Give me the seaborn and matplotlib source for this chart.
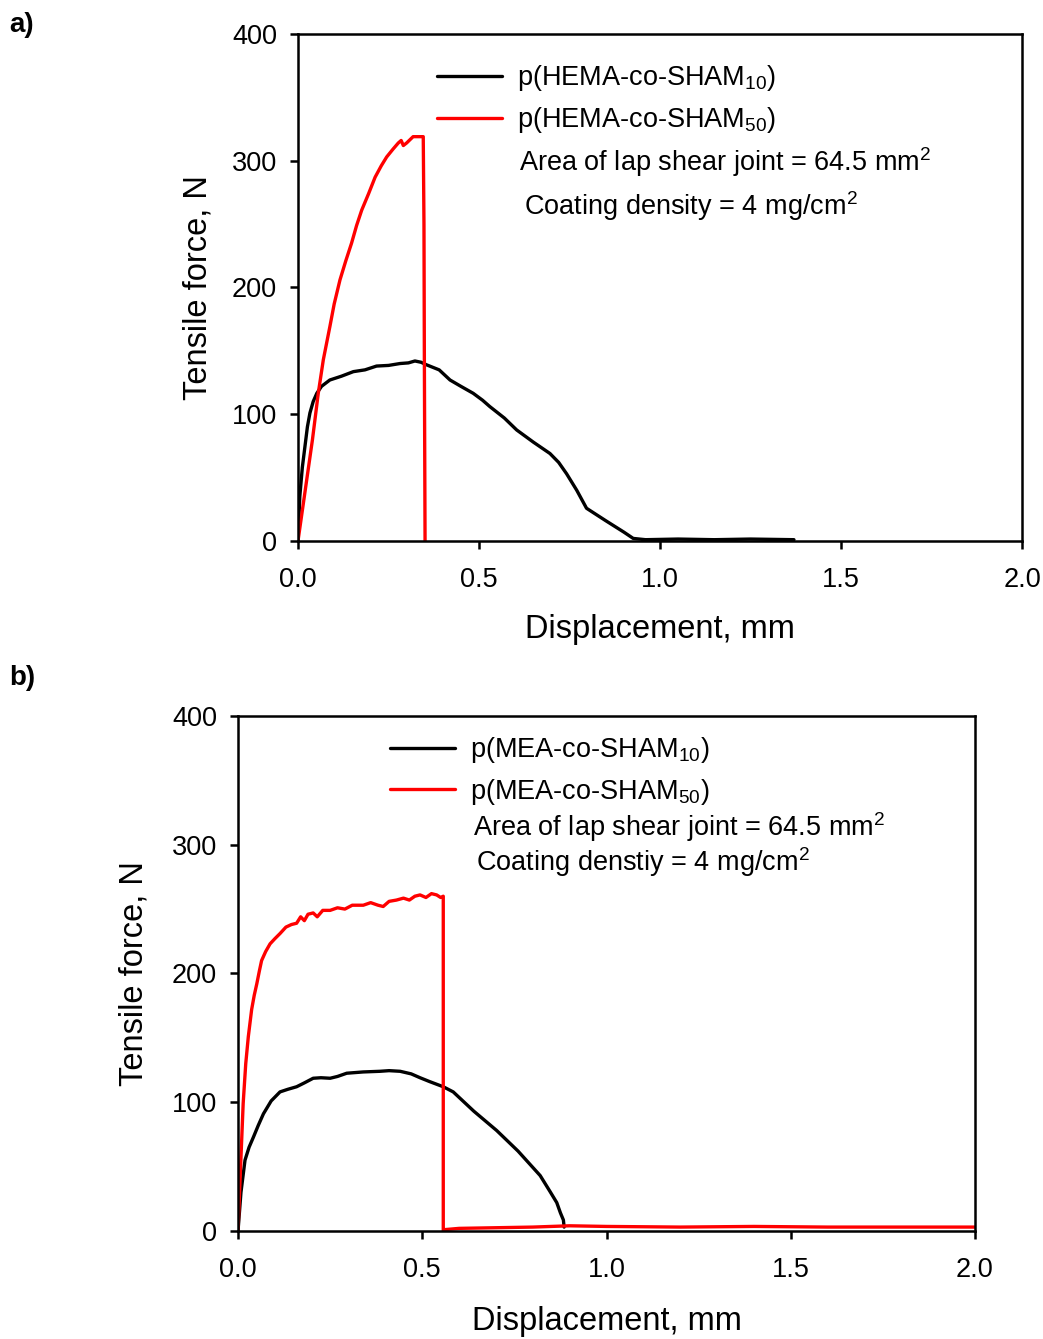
# Lap shear tensile tests - force vs displacement
import numpy as np
import pandas as pd
import matplotlib
matplotlib.use("Agg")
import matplotlib.pyplot as plt
import seaborn as sns
from matplotlib.ticker import FormatStrFormatter

# Panel a: p(HEMA-co-SHAM)
a_x10 = [0, 0.005, 0.012, 0.019, 0.026, 0.033, 0.042, 0.052, 0.065, 0.088, 0.12, 0.153,
         0.185, 0.217, 0.25, 0.282, 0.305, 0.323, 0.34, 0.355, 0.39, 0.42, 0.45, 0.484,
         0.51, 0.53, 0.57, 0.604, 0.65, 0.696, 0.72, 0.742, 0.77, 0.797, 0.85, 0.90,
         0.926, 0.96, 1.05, 1.15, 1.25, 1.37]
a_y10 = [0, 35, 58, 74, 90, 101, 110, 116.5, 122, 127, 130, 133.6, 135, 138, 138.5, 140,
         140.5, 142, 141, 139, 135, 127, 122, 116.5, 111, 106, 97, 87.6, 78, 69, 62, 53,
         40, 25.8, 16, 7, 2, 1, 1.5, 1, 1.5, 1]
a_x50 = [0, 0.02, 0.04, 0.056, 0.07, 0.088, 0.10, 0.116, 0.132, 0.148, 0.162, 0.176,
         0.195, 0.213, 0.23, 0.245, 0.262, 0.277, 0.285, 0.291, 0.30, 0.318, 0.335,
         0.346, 0.348, 0.349, 0.351]
a_y50 = [0, 40, 80, 116.5, 143, 169, 187, 206, 221, 235, 249, 261, 274, 287, 296, 303,
         309, 314, 316, 312, 314, 319, 319, 319, 250, 150, 0]

# Panel b: p(MEA-co-SHAM)
b_x10 = [0, 0.008, 0.019, 0.03, 0.042, 0.055, 0.069, 0.09, 0.114, 0.135, 0.159, 0.18,
         0.204, 0.225, 0.25, 0.27, 0.295, 0.34, 0.385, 0.41, 0.44, 0.47, 0.494, 0.52,
         0.557, 0.584, 0.64, 0.702, 0.76, 0.82, 0.847, 0.865, 0.875, 0.883, 0.885]
b_y10 = [0, 30, 55, 65, 73, 82, 91, 101, 108, 110, 112, 115, 118.6, 119, 118.6, 120,
         122.5, 123.5, 124, 124.5, 124, 122, 119, 116, 112, 108, 93, 78, 62, 43, 30.5,
         22, 14, 8.5, 3]
b_x50 = [0, 0.007, 0.014, 0.021, 0.028, 0.037, 0.044, 0.051, 0.058, 0.064, 0.075, 0.087,
         0.1, 0.114, 0.13, 0.145, 0.159, 0.17, 0.18, 0.19, 0.204, 0.215, 0.23, 0.25,
         0.27, 0.29, 0.31, 0.34, 0.36, 0.38, 0.394, 0.41, 0.43, 0.449, 0.465, 0.48,
         0.494, 0.51, 0.525, 0.539, 0.55, 0.557, 0.557, 0.56, 0.6, 0.7, 0.8, 0.9, 1.0,
         1.2, 1.4, 1.6, 1.8, 2.0]
b_y50 = [0, 50, 99, 130, 151, 172, 183, 192, 202, 210, 217, 223, 227, 231, 236, 238,
         239, 244, 241, 246, 247, 244, 249, 249, 251, 250, 253, 253, 255, 253, 252, 256,
         257, 258.5, 257, 260, 261, 259, 262, 261, 259, 260, 0, 1, 2, 2.5, 3, 4, 3.5, 3,
         3.5, 3, 3, 3]

x_ticks = [0, 0.5, 1.0, 1.5, 2.0]
y_ticks = [0, 100, 200, 300, 400]

sns.set_theme(style="ticks")
plt.rcParams['font.family'] = ['Liberation Sans', 'DejaVu Sans']
plt.rcParams['mathtext.fontset'] = 'custom'
plt.rcParams['mathtext.rm'] = 'Liberation Sans'
plt.rcParams['mathtext.it'] = 'Liberation Sans'
plt.rcParams['text.color'] = 'black'
plt.rcParams['axes.labelcolor'] = 'black'

fig = plt.figure(figsize=(10.43, 13.39), dpi=100)
ax_a = fig.add_axes([0.2857, 0.596, 0.6942, 0.3786])
ax_b = fig.add_axes([0.2282, 0.0807, 0.7066, 0.3846])


def draw_panel(ax, x10, y10, x50, y50, name, dens_word, leg_xy, txt_xy, xl_y, yl_x):
    df10 = pd.DataFrame({"x": x10, "y": y10})
    df50 = pd.DataFrame({"x": x50, "y": y50})
    sns.lineplot(data=df10, x="x", y="y", color="black", lw=2.4, sort=False,
                 estimator=None, ax=ax, label=f"p({name}-co-SHAM$_{{10}}$)")
    sns.lineplot(data=df50, x="x", y="y", color="#ff0000", lw=2.4, sort=False,
                 estimator=None, ax=ax, label=f"p({name}-co-SHAM$_{{50}}$)")
    ax.set_xlim(0, 2.0)
    ax.set_ylim(0, 400)
    ax.set_xticks(x_ticks)
    ax.set_yticks(y_ticks)
    ax.xaxis.set_major_formatter(FormatStrFormatter('%.1f'))
    ax.tick_params(direction='out', length=6, width=1.8, labelsize=19.5, colors='black')
    ax.tick_params(axis='x', pad=13)
    ax.tick_params(axis='y', pad=9)
    for s in ax.spines.values():
        s.set_linewidth(1.8)
        s.set_color('black')
    ax.set_xlabel("Displacement, mm", fontsize=23.5)
    ax.set_ylabel("Tensile force, N", fontsize=23.5)
    ax.xaxis.set_label_coords(0.5, xl_y)
    ax.yaxis.set_label_coords(yl_x, 0.5)
    ax.legend(loc='upper left', bbox_to_anchor=leg_xy, frameon=False, fontsize=19.5,
              handlelength=2.4, handletextpad=0.55, borderpad=0, borderaxespad=0,
              labelspacing=0.43)
    ax.text(txt_xy[0][0], txt_xy[0][1], "Area of lap shear joint = 64.5 mm$^2$",
            transform=ax.transAxes, fontsize=19.5, va='center', ha='left')
    ax.text(txt_xy[1][0], txt_xy[1][1], f"Coating {dens_word} = 4 mg/cm$^2$",
            transform=ax.transAxes, fontsize=19.5, va='center', ha='left')


draw_panel(ax_a, a_x10, a_y10, a_x50, a_y50, "HEMA", "density",
           (0.192, 0.942), [(0.305, 0.747), (0.312, 0.661)], -0.144, -0.117)
draw_panel(ax_b, b_x10, b_y10, b_x50, b_y50, "MEA", "denstiy",
           (0.206, 0.963), [(0.319, 0.784), (0.323, 0.716)], -0.146, -0.12)

fig.text(0.009, 0.981, "a)", fontsize=20, fontweight='bold', va='center')
fig.text(0.009, 0.494, "b)", fontsize=20, fontweight='bold', va='center')

fig.savefig("out.png", dpi=100)
